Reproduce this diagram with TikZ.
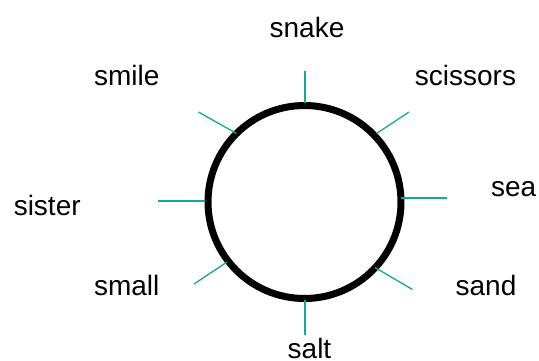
\documentclass[tikz,border=0pt]{standalone}
\usepackage{fontspec}
\setmainfont{Liberation Sans}
\definecolor{spoke}{RGB}{22,166,152}
\begin{document}
\begin{tikzpicture}[x=1pt,y=-1pt,
  word/.style={anchor=base,inner sep=0pt,font=\fontsize{28}{32}\selectfont},
  spokeline/.style={draw=spoke,line width=1.3pt},
  ring/.style={draw=black,line width=7pt}]
\useasboundingbox (0,0) rectangle (539,360);
\node[ring,circle,minimum size=193pt,inner sep=0pt] (c) at (304.5,202) {};
% spokes
\coordinate (t1) at (305,71); \coordinate (t2) at (305,103);
\coordinate (ur1) at (409,112); \coordinate (ur2) at (376.5,133.5);
\coordinate (r1) at (447,198); \coordinate (r2) at (400.5,198);
\coordinate (lr1) at (412.5,289.5); \coordinate (lr2) at (375,267.5);
\coordinate (b1) at (305,335); \coordinate (b2) at (305,300);
\coordinate (ll1) at (194,284); \coordinate (ll2) at (227,262);
\coordinate (l1) at (158,201); \coordinate (l2) at (205,201);
\coordinate (ul1) at (198.5,112); \coordinate (ul2) at (236.5,133.5);
\foreach \a/\b in {t1/t2,ur1/ur2,r1/r2,lr1/lr2,b1/b2,ll1/ll2,l1/l2,ul1/ul2}
  \draw[spokeline] (\a) -- (\b);
% labels
\node[word] (snake) at (307,37.7) {snake};
\node[word] (smile) at (126.7,85.5) {smile};
\node[word] (scissors) at (465.5,85.5) {scissors};
\node[word] (sea) at (513.7,196.7) {sea};
\node[word] (sister) at (47.2,215) {sister};
\node[word] (small) at (126.7,295) {small};
\node[word] (sand) at (486,295) {sand};
\node[word] (salt) at (309.5,358.5) {salt};
\end{tikzpicture}
\end{document}
